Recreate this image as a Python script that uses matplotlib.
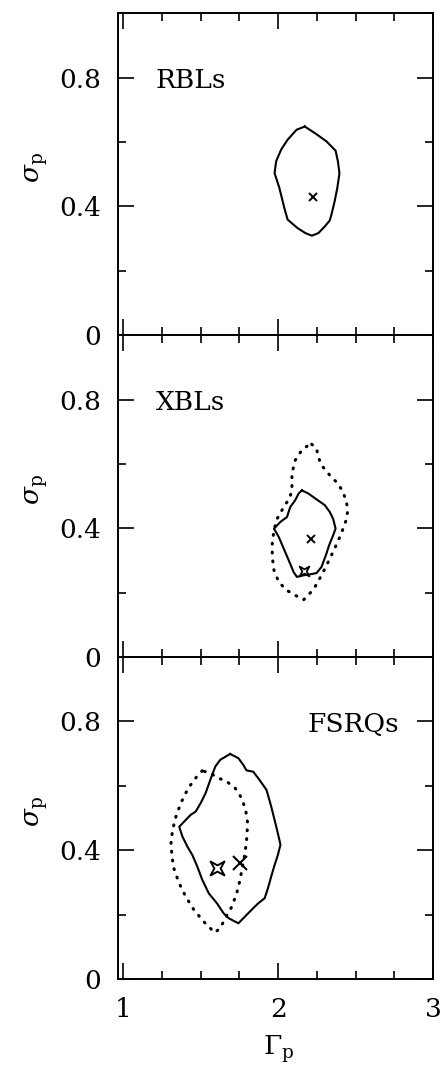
import numpy as np
import matplotlib
matplotlib.use("Agg")
import matplotlib.pyplot as plt
from matplotlib.path import Path
from matplotlib.ticker import MultipleLocator, FuncFormatter

plt.rcParams['font.family'] = ['DejaVu Serif']
plt.rcParams['mathtext.fontset'] = 'dejavuserif'

# ---- RBLs: confidence contour and best fit ----
rbl_solid_g = [2.172, 2.239, 2.312, 2.371, 2.386, 2.396, 2.382, 2.365, 2.344, 2.333,
               2.302, 2.260, 2.218, 2.176, 2.124, 2.061, 2.040, 2.008, 1.977, 1.987,
               2.019, 2.061, 2.119, 2.172]
rbl_solid_s = [0.648, 0.627, 0.602, 0.573, 0.540, 0.503, 0.457, 0.416, 0.374, 0.356,
               0.338, 0.317, 0.309, 0.317, 0.333, 0.359, 0.395, 0.457, 0.503, 0.540,
               0.576, 0.607, 0.638, 0.648]
rbl_best = (2.222, 0.428)

# ---- XBLs: two contours and two best-fit points ----
xbl_solid_g = [2.153, 2.195, 2.248, 2.301, 2.333, 2.355, 2.371, 2.355, 2.329, 2.308,
               2.280, 2.248, 2.206, 2.164, 2.121, 2.100, 2.068, 2.036, 2.004, 1.973,
               2.015, 2.057, 2.078, 2.110, 2.132, 2.153]
xbl_solid_s = [0.518, 0.508, 0.490, 0.472, 0.451, 0.430, 0.399, 0.378, 0.347, 0.316,
               0.280, 0.261, 0.257, 0.254, 0.249, 0.264, 0.301, 0.337, 0.373, 0.399,
               0.420, 0.435, 0.466, 0.487, 0.508, 0.518]
xbl_dot_g = [2.217, 2.248, 2.259, 2.280, 2.333, 2.376, 2.414, 2.439, 2.450, 2.439,
             2.408, 2.365, 2.323, 2.280, 2.238, 2.195, 2.164, 2.110, 2.057, 2.004,
             1.973, 1.962, 1.962, 1.973, 1.994, 2.036, 2.078, 2.089, 2.089, 2.110,
             2.153, 2.195, 2.217]
xbl_dot_s = [0.661, 0.648, 0.622, 0.596, 0.565, 0.544, 0.518, 0.487, 0.456, 0.425,
             0.384, 0.337, 0.295, 0.254, 0.218, 0.192, 0.178, 0.192, 0.207, 0.233,
             0.270, 0.311, 0.353, 0.394, 0.430, 0.466, 0.497, 0.528, 0.570, 0.611,
             0.643, 0.658, 0.661]
xbl_best_cross = (2.210, 0.368)
xbl_best_star = (2.170, 0.267)

# ---- FSRQs: two contours and two best-fit points ----
fsrq_solid_g = [1.690, 1.743, 1.775, 1.796, 1.839, 1.871, 1.902, 1.924, 1.934, 1.955,
                1.977, 1.998, 2.015, 1.998, 1.977, 1.955, 1.934, 1.913, 1.871, 1.839,
                1.796, 1.743, 1.680, 1.648, 1.605, 1.552, 1.510, 1.478, 1.446, 1.414,
                1.382, 1.361, 1.403, 1.435, 1.467, 1.499, 1.531, 1.562, 1.594, 1.626,
                1.690]
fsrq_solid_s = [0.699, 0.686, 0.665, 0.648, 0.644, 0.624, 0.603, 0.588, 0.572, 0.536,
                0.494, 0.453, 0.417, 0.385, 0.354, 0.318, 0.282, 0.251, 0.235, 0.220,
                0.199, 0.173, 0.189, 0.204, 0.235, 0.266, 0.308, 0.349, 0.385, 0.411,
                0.442, 0.473, 0.494, 0.510, 0.520, 0.546, 0.577, 0.619, 0.660, 0.681,
                0.699]
fsrq_dot_g = [1.510, 1.457, 1.414, 1.371, 1.340, 1.318, 1.308, 1.314, 1.329, 1.361,
              1.403, 1.457, 1.520, 1.590, 1.626, 1.658, 1.701, 1.732, 1.754, 1.769,
              1.786, 1.796, 1.803, 1.790, 1.764, 1.722, 1.669, 1.616, 1.562, 1.510]
fsrq_dot_s = [0.647, 0.619, 0.588, 0.546, 0.505, 0.463, 0.422, 0.380, 0.339, 0.297,
              0.256, 0.214, 0.178, 0.144, 0.158, 0.189, 0.225, 0.266, 0.308, 0.349,
              0.391, 0.432, 0.484, 0.525, 0.562, 0.593, 0.613, 0.624, 0.639, 0.647]
fsrq_best_cross = (1.754, 0.360)
fsrq_best_star = (1.605, 0.344)

panel_names = ["RBLs", "XBLs", "FSRQs"]

# four-pointed concave star marker
star_marker = Path([(1, 1), (0, 0.45), (-1, 1), (-0.45, 0), (-1, -1), (0, -0.45),
                    (1, -1), (0.45, 0), (1, 1)],
                   [Path.MOVETO] + [Path.LINETO] * 7 + [Path.CLOSEPOLY])

FS = 19
fig = plt.figure(figsize=(4.4, 10.66), dpi=100)
left, width = 0.268, 0.716
h = 0.302
bottoms = [0.0816 + 2 * h, 0.0816 + h, 0.0816]
axes = [fig.add_axes([left, b, width, h]) for b in bottoms]

solid_kw = dict(color='black', lw=1.5, solid_joinstyle='round')
dot_kw = dict(color='black', lw=2.2, linestyle=(0, (0.3, 2.6)),
              dash_capstyle='round')

ax = axes[0]
ax.plot(rbl_solid_g, rbl_solid_s, **solid_kw)
ax.plot(*rbl_best, marker='x', ms=6, mew=1.4, color='black', ls='none')

ax = axes[1]
ax.plot(xbl_dot_g, xbl_dot_s, **dot_kw)
ax.plot(xbl_solid_g, xbl_solid_s, **solid_kw)
ax.plot(*xbl_best_cross, marker='x', ms=6, mew=1.4, color='black', ls='none')
ax.plot(*xbl_best_star, marker=star_marker, ms=7, mew=1.3, mfc='none',
        mec='black', ls='none')

ax = axes[2]
ax.plot(fsrq_dot_g, fsrq_dot_s, **dot_kw)
ax.plot(fsrq_solid_g, fsrq_solid_s, **solid_kw)
ax.plot(*fsrq_best_cross, marker='x', ms=10, mew=1.5, color='black', ls='none')
ax.plot(*fsrq_best_star, marker=star_marker, ms=10, mew=1.4, mfc='none',
        mec='black', ls='none')


def ylab(v, pos):
    return "0" if abs(v) < 1e-9 else f"{v:.1f}"


for i, ax in enumerate(axes):
    ax.set_xlim(0.965, 3.0)
    ax.set_ylim(0, 1.0)
    ax.xaxis.set_major_locator(MultipleLocator(1))
    ax.xaxis.set_minor_locator(MultipleLocator(0.25))
    ax.set_yticks([0, 0.4, 0.8])
    ax.yaxis.set_minor_locator(MultipleLocator(0.2))
    ax.yaxis.set_major_formatter(FuncFormatter(ylab))
    ax.tick_params(which='both', direction='in', top=True, right=True,
                   width=1.2, labelsize=FS)
    ax.tick_params(which='major', length=11.5)
    ax.tick_params(which='minor', length=6)
    ax.tick_params(axis='y', pad=12)
    ax.tick_params(axis='x', pad=13)
    for sp in ax.spines.values():
        sp.set_linewidth(1.4)
    ax.set_ylabel(r"$\sigma_{\rm p}$", fontsize=FS)
    ax.yaxis.set_label_coords(-0.215, 0.52)
    if i < 2:
        ax.tick_params(labelbottom=False)

axes[0].text(1.21, 0.79, panel_names[0], fontsize=FS, va='center', ha='left')
axes[1].text(1.21, 0.79, panel_names[1], fontsize=FS, va='center', ha='left')
axes[2].text(2.78, 0.79, panel_names[2], fontsize=FS, va='center', ha='right')

axes[2].set_xlabel(r"$\Gamma_{\rm p}$", fontsize=FS)
axes[2].xaxis.set_label_coords(0.509, -0.17)

fig.savefig("out.png", dpi=100)
